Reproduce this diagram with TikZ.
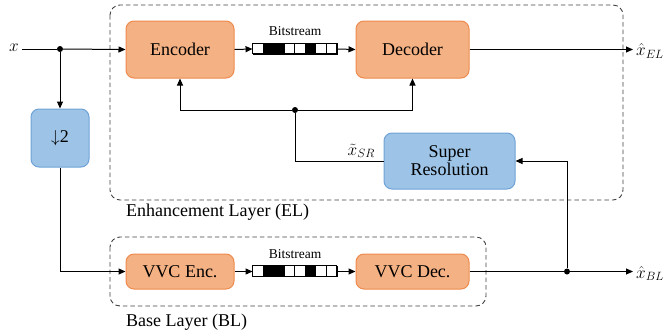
\documentclass[tikz,border=0pt]{standalone}
\usepackage{fontspec}
\setmainfont{Liberation Serif}
\newfontfamily\tnr{Liberation Serif}
\usetikzlibrary{arrows.meta,positioning,calc}
\definecolor{orfill}{HTML}{F4B183}
\definecolor{ordraw}{HTML}{EE8A4E}
\definecolor{blfill}{HTML}{9DC3E6}
\definecolor{bldraw}{HTML}{6FA3D8}
\tikzset{
  orbox/.style={draw=ordraw,fill=orfill,rounded corners=8pt,line width=1pt,font=\tnr\fontsize{18}{20}\selectfont,align=center,inner sep=0pt},
  blbox/.style={draw=bldraw,fill=blfill,rounded corners=8pt,line width=1pt,font=\tnr\fontsize{18}{20}\selectfont,align=center,inner sep=0pt},
  layer/.style={draw=black!75,dash pattern=on 4.5pt off 3pt,rounded corners=10pt,line width=0.9pt},
  conn/.style={line width=1pt,-{Triangle[length=7pt,width=6pt]}},
  plain/.style={line width=1pt},
  dot/.style={circle,fill=black,inner sep=0pt,minimum size=6pt},
  bits/.style={draw=black,line width=0.9pt,minimum width=84pt,minimum height=10.5pt,inner sep=0pt},
  bitlabel/.style={font=\tnr\fontsize{13.5}{15}\selectfont,inner sep=0pt},
  lbl/.style={font=\tnr\fontsize{18}{20}\selectfont,inner sep=0pt},
}
\begin{document}
\begin{tikzpicture}[x=1pt,y=-1pt]
\useasboundingbox (0,0) rectangle (665,333);
% layers
\draw[layer] (110,5) rectangle (623,200);
\draw[layer] (110,237) rectangle (486,306);
\node[lbl,anchor=west] (ellabel) at (126,212) {Enhancement Layer (EL)};
\node[lbl,anchor=west] (bllabel) at (126,322) {Base Layer (BL)};
% boxes
\node[orbox,minimum width=108pt,minimum height=57pt] (enc) at (180,49.5) {Encoder};
\node[orbox,minimum width=113pt,minimum height=57pt] (dec) at (412.5,49.5) {Decoder};
\node[blbox,minimum width=58pt,minimum height=58pt] (down) at (60,138) {$\downarrow$2};
\node[blbox,minimum width=131pt,minimum height=56pt] (sr) at (449.5,161) {Super\\[-2pt]Resolution};
\node[orbox,minimum width=108pt,minimum height=35pt] (venc) at (180,271.5) {VVC Enc.};
\node[orbox,minimum width=113pt,minimum height=35pt] (vdec) at (412.5,271.5) {VVC Dec.};
% bitstreams
\node[bits] (bsel) at (295,49) {};
\node[bits] (bsbl) at (295,271.5) {};
\foreach \b in {bsel,bsbl}{
  \foreach \i/\f in {0/white,1/black,2/black,3/white,4/white,5/black,6/white,7/white}{
    \draw[line width=0.9pt,fill=\f] ($(\b.north west)+(\i*10.5,0)$) rectangle ++(10.5,10.5);
  }
}
\node[bitlabel,above=7pt of bsel] (bsellabel) {Bitstream};
\node[bitlabel,above=7pt of bsbl] (bsbllabel) {Bitstream};
% terminals
\node[lbl,anchor=east] (xin) at (19,48) {$x$};
\coordinate (xstart) at (22,49);
\node[dot] (j1) at (60,49) {};
\node[dot] (jfb) at (295,110) {};
\node[dot] (jbl) at (567,271.5) {};
\node[lbl,anchor=west] (xel) at (636,51) {$\hat{x}_{EL}$};
\node[lbl,anchor=west] (xbl) at (636,273.5) {$\hat{x}_{BL}$};
\coordinate (xelend) at (633,49.5);
\coordinate (xblend) at (633,271.5);
\node[lbl,anchor=south east] (xsr) at (375,158) {$\tilde{x}_{SR}$};
% connectors
\draw[plain] (xstart) -- (j1);
\draw[conn] (j1) -- (enc.west);
\draw[conn] (j1) -- (down.north);
\draw[conn] (down.south) |- (venc.west);
\draw[conn] (enc.east) -- (bsel.west);
\draw[conn] (bsel.east) -- (dec.west);
\draw[conn] (dec.east) -- (xelend);
\draw[conn] (venc.east) -- (bsbl.west);
\draw[conn] (bsbl.east) -- (vdec.west);
\draw[conn] (vdec.east) -- (xblend);
\draw[conn] (jbl) |- (sr.east);
\draw[conn] (jfb) -| (enc.south);
\draw[conn] (jfb) -| (dec.south);
\draw[plain] (jfb) |- (sr.west);
\end{tikzpicture}
\end{document}
